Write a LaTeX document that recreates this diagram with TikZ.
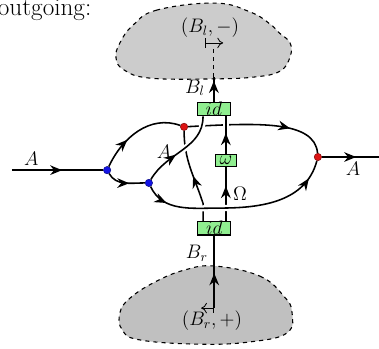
\documentclass[tikz,border=0pt]{standalone}
\usepackage{tikz}
\usepackage{xcolor}
\usetikzlibrary{arrows.meta, positioning, calc, decorations.markings}
\definecolor{boxGreen}{RGB}{144,238,144}
\definecolor{dotBlue}{RGB}{20,20,230}
\definecolor{dotRed}{RGB}{220,20,20}
\definecolor{blobGray}{RGB}{204,204,204}
\definecolor{blobDark}{RGB}{192,192,192}
\tikzset{
    mapbox/.style={
        rectangle,
        draw=black,
        line width=0.9pt,
        fill=boxGreen,
        inner sep=0pt,
        minimum width=0.86cm,
        minimum height=0.33cm,
        font=\Large
    },
    bluedot/.style={circle, fill=dotBlue, draw=dotBlue!60!black, inner sep=0pt, minimum size=0.19cm},
    reddot/.style={circle, fill=dotRed, draw=dotRed!60!black, inner sep=0pt, minimum size=0.19cm},
    wire/.style={line width=1.15pt},
    midarrow/.style={postaction={decorate, decoration={markings,
        mark=at position #1 with {\arrow{Stealth[length=3.1mm, width=2.5mm]}}}}},
    midarrow/.default=0.5,
    overwire/.style={preaction={draw=white, line width=4.5pt, shorten <=2pt, shorten >=1.5pt}},
    blob/.style={draw=black, dashed, line width=0.8pt, fill=blobGray},
    maparrow/.style={line width=0.6pt, {Bar[width=2.7mm]}-{To[length=1.5mm, width=2.7mm]}},
    lbl/.style={font=\Large, inner sep=0pt}
}
\begin{document}
\begin{tikzpicture}
    \useasboundingbox (0,0) rectangle (9.80,-9.00);
    % the two boundary regions
    \draw[blob] plot[smooth cycle, tension=0.7] coordinates {(5.56,-0.08) (4.06,-0.26) (3.44,-0.65) (3.10,-1.11) (3.00,-1.50) (3.21,-1.81) (3.88,-2.02) (5.51,-2.04) (6.59,-1.99) (7.24,-1.84) (7.50,-1.47) (7.50,-1.11) (7.22,-0.85) (6.98,-0.62) (6.47,-0.31)};
    \draw[blob, fill=blobDark] plot[smooth cycle, tension=0.7] coordinates {(5.56,-6.88) (6.72,-7.14) (7.34,-7.66) (7.55,-8.07) (7.42,-8.61) (6.47,-8.84) (5.17,-8.90) (3.62,-8.79) (3.16,-8.53) (3.10,-8.09) (3.36,-7.71) (4.01,-7.29) (4.78,-6.98)};

    \node[anchor=base west, inner sep=0pt, font=\fontsize{18.5}{22}\selectfont] (title) at (-0.06,-0.41) {outgoing:};

    \node[mapbox] (idtop) at (5.53,-2.82) {$id$};
    \node[mapbox] (idbot) at (5.54,-5.90) {$id$};
    \node[mapbox, minimum width=0.55cm] (omega) at (5.84,-4.15) {$\omega$};
    \node[bluedot] (b1) at (2.77,-4.40) {};
    \node[bluedot] (b2) at (3.85,-4.73) {};
    \node[reddot] (r1) at (4.76,-3.28) {};
    \node[reddot] (r2) at (8.22,-4.06) {};

    \coordinate (in) at (0.31,-4.40);
    \coordinate (out) at (9.80,-4.06);
    \coordinate (topend) at ($(idtop.north)+(0,0.63)$);
    \coordinate (topmap) at ($(idtop.north)+(0,1.42)$);
    \coordinate (botend) at ($(idbot.south)+(0,-1.875)$);
    \coordinate (tl) at ($(idtop.south)+(-0.28,0)$);
    \coordinate (tr) at (omega |- idtop.south);
    \coordinate (bl) at ($(idbot.north)+(-0.29,0)$);
    \coordinate (br) at (omega |- idbot.north);
    \coordinate (bmid) at (5.69,-5.38);

    % wires
    \draw[wire, midarrow=0.72] (r1) to[out=3, in=95, out looseness=1.3, in looseness=0.65] (r2);
    \draw[wire, midarrow=0.5] (bl) -- ++(0,0.45) to[out=108, in=-90] (r1);
    \draw[wire, midarrow=0.65] (br) -- (omega);
    \draw[wire, overwire, midarrow=0.12, midarrow=0.9] (b2) to[out=-65, in=180] (bmid) to[out=0, in=-105] (r2);
    \draw[wire, overwire, midarrow=0.42] (b2) to[out=60, in=-90] (tl);
    \draw[wire, overwire, midarrow=0.55] (omega) -- (tr);
    \draw[wire, midarrow=0.36] (b1) to[out=65, in=160] (r1);
    \draw[wire, midarrow=0.6] (b1) to[out=-60, in=180] (b2);
    \draw[wire, midarrow=0.55] (in) -- (b1);
    \draw[wire, midarrow=0.6] (r2) -- (out);
    \draw[wire, midarrow=0.85] (idtop) -- (topend);
    \draw[line width=0.8pt, dashed] (topend) -- (topmap);
    \draw[wire, midarrow=0.48] (botend) -- (idbot);
    \draw[maparrow] (5.30,-1.11) -- (5.77,-1.11);
    \draw[maparrow] (botend) -- ++(-0.34,0);

    % labels
    \node[lbl] (lAin) at (0.81,-4.10) {$A$};
    \node[lbl] (lAout) at (9.13,-4.37) {$A$};
    \node[lbl] (lAmid) at (4.24,-3.93) {$A$};
    \node[lbl] (lOmega) at (6.21,-5.02) {$\Omega$};
    \node[lbl] (lBl) at (5.04,-2.27) {$B_l$};
    \node[lbl] (lBr) at (5.09,-6.54) {$B_r$};
    \node[lbl] (lBlminus) at (5.43,-0.72) {$(B_l,-)$};
    \node[lbl] (lBrplus) at (5.48,-8.29) {$(B_r,+)$};
\end{tikzpicture}
\end{document}
